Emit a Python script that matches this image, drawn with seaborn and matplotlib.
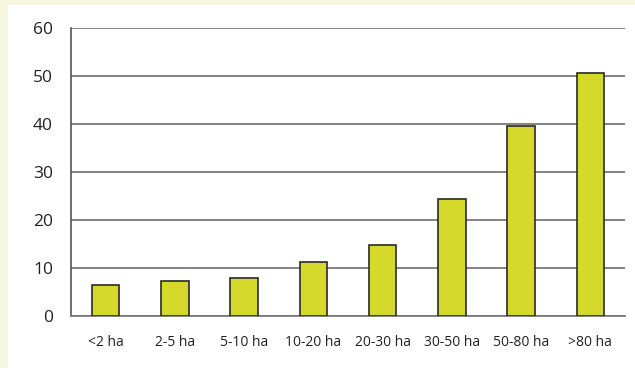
import matplotlib
matplotlib.use("Agg")
import matplotlib.pyplot as plt
import seaborn as sns
import pandas as pd
from matplotlib.patches import Rectangle
from matplotlib.ticker import FixedLocator, NullFormatter

categories = ["<2 ha", "2-5 ha", "5-10 ha", "10-20 ha", "20-30 ha", "30-50 ha", "50-80 ha", ">80 ha"]
values = [6.5, 7.2, 7.9, 11.2, 14.7, 24.4, 39.5, 50.7]
yticks = [0, 10, 20, 30, 40, 50, 60]

sns.set_style("white")
plt.rcParams['font.family'] = ['Open Sans', 'DejaVu Sans']

fig = plt.figure(figsize=(6.35, 3.68), dpi=100)
fig.patch.set_facecolor("#F7F6DE")
fig.patches.append(Rectangle((8/635, 0), 1 - 8/635, 1 - 5/368, transform=fig.transFigure,
                             facecolor="white", edgecolor="none", zorder=-10))

ax = fig.add_axes([71/635, 1 - 316/368, (625-71)/635, (316-28)/368])
ax.set_facecolor("none")
df = pd.DataFrame({"cat": categories, "val": values})
sns.barplot(data=df, x="cat", y="val", ax=ax, color="#D5D92C", width=0.4,
            edgecolor="#2a2a2a", linewidth=1.2, saturation=1, zorder=3)

ax.set_ylim(0, 60)
ax.set_xlim(-0.5, len(categories) - 0.5)
ax.set_yticks(yticks)
ax.set_yticklabels([str(v) for v in yticks], fontsize=12.5)
ax.tick_params(axis="y", length=0, pad=13, colors="#222222")
ax.yaxis.grid(True, color="#7a7a7a", linewidth=1.3, zorder=0)
ax.set_axisbelow(True)

ax.tick_params(axis="x", length=0, pad=14, labelsize=10, colors="#222222")
ax.xaxis.set_minor_locator(FixedLocator([i + 0.5 for i in range(len(categories))]))
ax.xaxis.set_minor_formatter(NullFormatter())
ax.tick_params(axis="x", which="minor", direction="in", length=12, width=1.2, color="#555555")

for s in ["top", "right"]:
    ax.spines[s].set_visible(False)
ax.spines["left"].set_color("#555555")
ax.spines["left"].set_linewidth(1.2)
ax.spines["bottom"].set_color("#7a7a7a")
ax.spines["bottom"].set_linewidth(1.3)
ax.set_xlabel("")
ax.set_ylabel("")

fig.savefig("out.png", dpi=100, facecolor=fig.get_facecolor())
